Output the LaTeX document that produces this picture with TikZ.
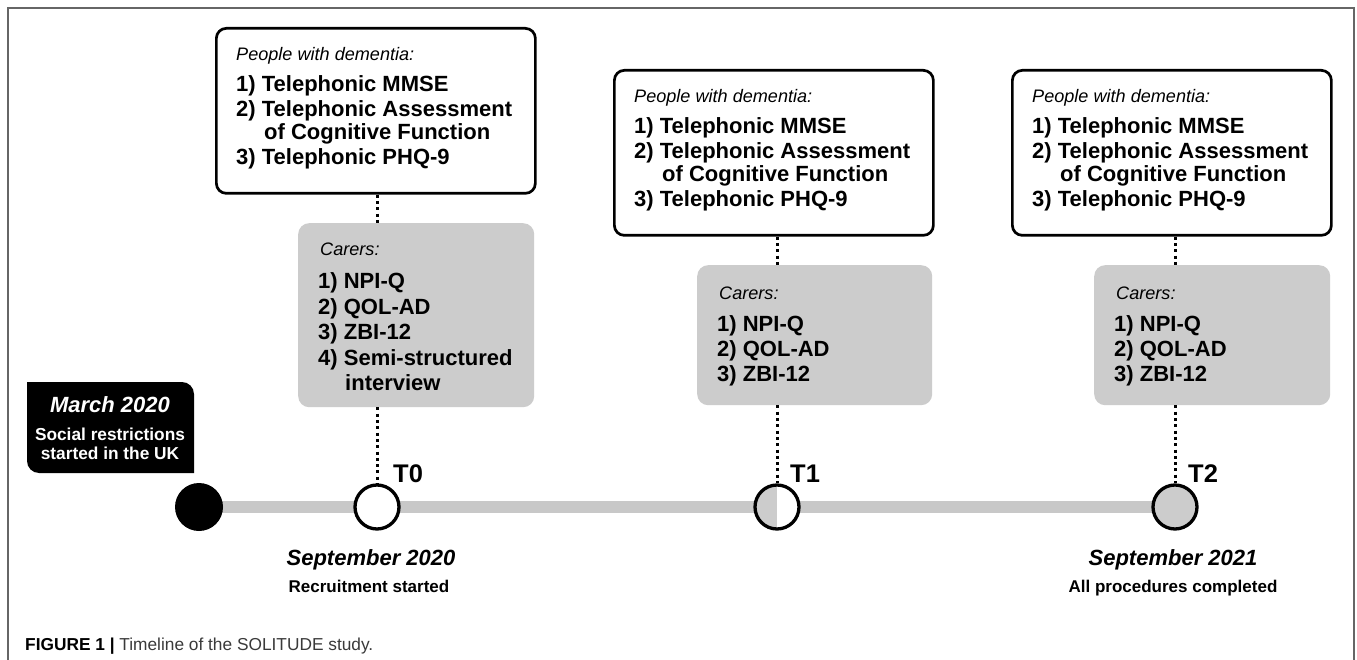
\documentclass[tikz,border=0pt]{standalone}
\usepackage{fontspec}
\setmainfont{Liberation Sans}
\newfontfamily\capfont{Liberation Sans}
\usetikzlibrary{backgrounds}
\definecolor{boxgray}{HTML}{CCCCCC}
\definecolor{linegray}{HTML}{C8C8C8}
\definecolor{framegray}{HTML}{666666}
\definecolor{capgray}{HTML}{3A3A3A}
\tikzset{
  pwd/.style={draw=black, line width=2.7pt, rounded corners=10pt, fill=white,
    minimum width=319pt, minimum height=165pt, inner sep=0pt},
  carer/.style={fill=boxgray, rounded corners=11pt, inner sep=0pt, minimum width=236pt},
  lab/.style={inner sep=0pt, anchor=base west, font=\fontsize{18.1}{21}\selectfont\itshape},
  item/.style={inner sep=0pt, anchor=base west, font=\fontsize{22}{26}\selectfont\bfseries},
  tlab/.style={inner sep=0pt, anchor=base west, font=\fontsize{25.5}{28}\selectfont\bfseries},
  date/.style={inner sep=0pt, anchor=base, font=\fontsize{22}{26}\selectfont\bfseries\itshape},
  sub/.style={inner sep=0pt, anchor=base, font=\fontsize{17}{20}\selectfont\bfseries},
  dotline/.style={line width=3pt, dash pattern=on 3pt off 3.3pt},
  tcircle/.style={circle, draw=black, line width=3.3pt, minimum size=44pt, inner sep=0pt},
}
\newcommand\pwdbox[3]{%
  \begin{scope}[shift={(#2,#3)}]
    \node[pwd, anchor=north west] (#1) at (0,0) {};
    \node[lab] (#1-h) at (21,34) {People with dementia:};
    \node[item] (#1-a) at (21,65) {1) Telephonic MMSE};
    \node[item] (#1-b) at (21,90) {2) Telephonic Assessment};
    \node[item] (#1-c) at (49,113) {of Cognitive Function};
    \node[item] (#1-d) at (21,138) {3) Telephonic PHQ-9};
  \end{scope}}
\newcommand\carerbox[4]{%
  \begin{scope}[shift={(#2,#3)}]
    \node[carer, anchor=north west, minimum width=#4, minimum height=140pt] (#1) at (0,0) {};
    \node[lab] (#1-h) at (22,34) {Carers:};
    \node[item] (#1-a) at (20,66) {1) NPI-Q};
    \node[item] (#1-b) at (20,91) {2) QOL-AD};
    \node[item] (#1-c) at (20,116) {3) ZBI-12};
  \end{scope}}
\begin{document}
\begin{tikzpicture}[x=1pt, y=-1pt]
\useasboundingbox (0,0) rectangle (1357,660);
\draw[framegray, line width=1.2pt] (8,660) -- (8,8) -- (1354,8) -- (1354,660);

% people with dementia boxes
\pwdbox{pa}{215}{27}
\pwdbox{pb}{613}{69}
\pwdbox{pc}{1011}{69}

% carers box T0
\begin{scope}[shift={(298,223)}]
  \node[carer, anchor=north west, minimum height=184pt] (ca) at (0,0) {};
  \node[lab] (ca-h) at (22,33) {Carers:};
  \node[item] (ca-a) at (20,66) {1) NPI-Q};
  \node[item] (ca-b) at (20,91) {2) QOL-AD};
  \node[item] (ca-c) at (20,116) {3) ZBI-12};
  \node[item] (ca-d) at (20,142) {4) Semi-structured};
  \node[item] (ca-e) at (47,167) {interview};
\end{scope}
\carerbox{cb}{697}{265}{235pt}
\carerbox{cc}{1094}{265}{236pt}

% March 2020 box
\fill[black] (27,382) -- (110,382) [rounded corners=12pt] -- (194,382) -- (194,430)
  [sharp corners] -- (194,473) -- (110,473) [rounded corners=12pt] -- (27,473) -- (27,430)
  [sharp corners] -- cycle;
\node[inner sep=0pt, anchor=base, text=white, font=\fontsize{22}{26}\selectfont\bfseries\itshape] (mar) at (110,412) {March 2020};
\node[inner sep=0pt, anchor=base, text=white, font=\fontsize{17.3}{20}\selectfont\bfseries] (mar-a) at (110,440) {Social restrictions};
\node[inner sep=0pt, anchor=base, text=white, font=\fontsize{17.3}{20}\selectfont\bfseries] (mar-b) at (110,459) {started in the UK};

% timeline circles
\node[circle, fill=black, minimum size=48pt, inner sep=0pt] (m) at (199,507) {};
\node[tcircle, fill=white] (t0) at (377,507) {};
\node[tcircle, fill=white, path picture={\fill[boxgray] (path picture bounding box.south west) rectangle (path picture bounding box.north);}] (t1) at (777,507) {};
\node[tcircle, fill=boxgray] (t2) at (1175,507) {};

\begin{pgfonlayer}{background}
  \fill[white] (0,0) rectangle (1357,660);
  \draw[linegray, line width=12pt] (m.center) -- (t0.center) -- (t1.center) -- (t2.center);
\end{pgfonlayer}

% dotted connectors
\draw[dotline] (t0 |- pa.south) -- (t0 |- ca.north);
\draw[dotline] (t0 |- ca.south) -- (t0.north);
\draw[dotline] (t1 |- pb.south) -- (t1 |- cb.north);
\draw[dotline] (t1 |- cb.south) -- (t1.north);
\draw[dotline] (t2 |- pc.south) -- (t2 |- cc.north);
\draw[dotline] (t2 |- cc.south) -- (t2.north);

% T labels
\node[tlab] (t0l) at (393,482) {T0};
\node[tlab] (t1l) at (790,482) {T1};
\node[tlab] (t2l) at (1188,482) {T2};

% dates
\node[date] (d0) at (371,565) {September 2020};
\node[sub] (s0) at (369,592) {Recruitment started};
\node[date] (d2) at (1173,565) {September 2021};
\node[sub] (s2) at (1173,592) {All procedures completed};

% caption
\node[inner sep=0pt, anchor=base west, text=capgray, font=\capfont\fontsize{17.3}{20}\selectfont] (cap) at (25,650)
  {\textcolor{black}{\textbf{FIGURE 1 |}} Timeline of the SOLITUDE study.};
\end{tikzpicture}
\end{document}
